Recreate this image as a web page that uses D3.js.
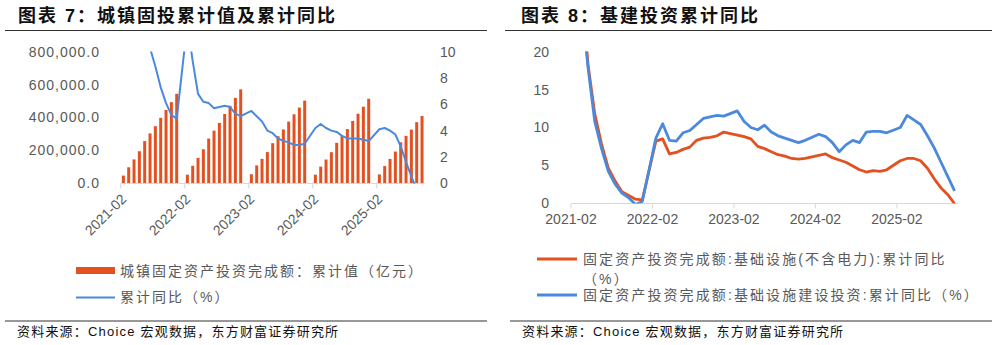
<!DOCTYPE html>
<html><head><meta charset="utf-8">
<script src="https://cdn.jsdelivr.net/npm/d3@7"></script>
<style>
body{margin:0;background:#fff}
svg{display:block}
text{font-family:'Liberation Sans','Noto Sans CJK SC',sans-serif}
</style>
</head><body>
<svg id="c" width="997" height="345"></svg>
<script>
// ---------- DATA ----------
const categories = [
 "2021-02","2021-03","2021-04","2021-05","2021-06","2021-07","2021-08","2021-09","2021-10","2021-11","2021-12",
 "2022-01","2022-02","2022-03","2022-04","2022-05","2022-06","2022-07","2022-08","2022-09","2022-10","2022-11","2022-12",
 "2023-01","2023-02","2023-03","2023-04","2023-05","2023-06","2023-07","2023-08","2023-09","2023-10","2023-11","2023-12",
 "2024-01","2024-02","2024-03","2024-04","2024-05","2024-06","2024-07","2024-08","2024-09","2024-10","2024-11","2024-12",
 "2025-01","2025-02","2025-03","2025-04","2025-05","2025-06","2025-07","2025-08","2025-09","2025-10"
];
// 城镇固定资产投资完成额：累计值（亿元）
const faiValue = [
 45236,95994,143917,193917,255900,302823,346913,397827,445823,494082,544547,
 null,50763,104872,153544,205964,271430,319812,367106,421412,471459,520043,572138,
 null,53577,107282,147482,188815,243113,285898,327042,375035,419409,460814,503036,
 null,50847,100042,143401,188006,245391,287611,329385,378978,423222,465839,514374,
 null,52619,103174,147024,191947,248654,288229,326111,371535,408914
];
// 累计同比（%）
const faiYoY = [
 35.0,25.6,19.9,15.4,12.6,10.3,8.9,7.3,6.1,5.2,4.9,
 null,12.2,9.3,6.8,6.2,6.1,5.7,5.8,5.9,5.8,5.3,5.1,
 null,5.5,5.1,4.7,4.0,3.8,3.4,3.2,3.1,2.9,2.9,3.0,
 null,4.2,4.5,4.2,4.0,3.9,3.6,3.4,3.4,3.4,3.3,3.2,
 null,4.1,4.2,4.0,3.7,2.8,1.6,0.5,-0.5,-1.7
];
// 基础设施(不含电力):累计同比
const infraExPowerYoY = [
 36.6,29.7,18.4,11.8,7.8,4.6,2.9,1.5,1.0,0.5,0.4,
 null,8.2,8.5,6.5,6.7,7.1,7.4,8.3,8.6,8.7,8.9,9.4,
 null,9.0,8.8,8.5,7.5,7.2,6.8,6.4,6.2,5.9,5.8,5.9,
 null,6.3,6.5,6.0,5.7,5.4,4.9,4.4,4.1,4.3,4.2,4.4,
 null,5.6,5.9,5.9,5.6,4.6,3.2,2.0,1.1,-0.1
];
// 基础设施建设投资:累计同比
const infraYoY = [
 35.0,26.9,18.0,10.8,7.2,4.2,2.5,1.3,0.7,-0.2,0.2,
 null,8.6,10.5,8.3,8.2,9.3,9.6,10.4,11.2,11.4,11.6,11.5,
 null,12.2,10.8,10.0,9.7,10.3,9.4,8.9,8.6,8.3,8.0,8.3,
 null,9.1,8.8,8.0,6.8,7.7,8.3,8.0,9.4,9.5,9.5,9.3,
 null,10.0,11.6,11.0,10.4,8.9,7.3,5.4,3.5,1.6
];
const xTickLabels = ["2021-02","2022-02","2023-02","2024-02","2025-02"];
const leftTicks = [0,200000,400000,600000,800000];
const rightTicks = [0,2,4,6,8,10];
const infraTicks = [0,5,10,15,20];

// ---------- STYLE ----------
const gray = '#595959', axisCol = '#D9D9D9', orange = '#E2511F', blue = '#4A89DC';
const svg = d3.select('#c');

function styleAxis(g, size){
  g.attr('font-family', null).attr('font-size', null);
  g.selectAll('text').attr('fill', gray).style('font-size', size + 'px');
}

// ---------- LEFT CHART ----------
const L = svg.append('g');
L.append('text').attr('x', 18).attr('y', 22)
  .style('font-size','18px').style('font-weight','bold').style('letter-spacing','2px')
  .attr('fill','#111').text('图表 7：城镇固投累计值及累计同比');
L.append('line').attr('x1',5).attr('x2',487).attr('y1',30.5).attr('y2',30.5).attr('stroke','#333').attr('stroke-width',1.2);

const xL = d3.scaleBand().domain(categories).range([120.7, 424.7]).paddingInner(0.44).paddingOuter(0.22);
const yL = d3.scaleLinear().domain([0, 800000]).range([183, 52]);
const yL2 = d3.scaleLinear().domain([0, 10]).range([183, 52]);

const defs = svg.append('defs');
defs.append('clipPath').attr('id','clipL').append('rect').attr('x',110).attr('y',51.5).attr('width',330).attr('height',132);
defs.append('clipPath').attr('id','clipR').append('rect').attr('x',560).attr('y',51.5).attr('width',410).attr('height',152);

const barData = categories.map((c,i)=>({c, v: faiValue[i]})).filter(d=>d.v!=null);
L.append('g').selectAll('rect').data(barData).join('rect')
  .attr('x', d=>xL(d.c)).attr('width', xL.bandwidth())
  .attr('y', d=>yL(d.v)).attr('height', d=>yL(0)-yL(d.v))
  .attr('fill', orange);

// x axis
L.append('line').attr('x1',xL.range()[0]).attr('x2',xL.range()[1]).attr('y1',183.5).attr('y2',183.5).attr('stroke',axisCol);
const gxL = L.append('g').attr('transform',`translate(${-xL.step()/2},183.5)`)
  .call(d3.axisBottom(xL).tickValues(xTickLabels).tickSize(5).tickSizeOuter(0));
gxL.select('.domain').remove();
gxL.selectAll('.tick line').attr('stroke',axisCol);
styleAxis(gxL, 14);
gxL.selectAll('.tick text').attr('text-anchor','end').attr('y',null).attr('dy','0.35em')
  .attr('transform','translate(3,13) rotate(-45)');

// left y axis
const gyL = L.append('g').attr('transform','translate(100,0)')
  .call(d3.axisLeft(yL).tickValues(leftTicks).tickSize(0).tickPadding(0).tickFormat(d3.format(',.1f')));
gyL.select('.domain').remove();
styleAxis(gyL, 14);
gyL.selectAll('text').style('letter-spacing','1px');

// right y axis
const gyL2 = L.append('g').attr('transform','translate(440,0)')
  .call(d3.axisRight(yL2).tickValues(rightTicks).tickSize(0).tickPadding(0).tickFormat(d3.format('d')));
gyL2.select('.domain').remove();
styleAxis(gyL2, 14);

// yoy line
const lineDataL = categories.map((c,i)=>({c, v: faiYoY[i]})).filter(d=>d.v!=null);
L.append('path').datum(lineDataL).attr('clip-path','url(#clipL)')
  .attr('fill','none').attr('stroke',blue).attr('stroke-width',2).attr('stroke-linejoin','round')
  .attr('d', d3.line().x(d=>xL(d.c)+xL.bandwidth()/2).y(d=>yL2(d.v)));

// legend
L.append('rect').attr('x',76).attr('y',267).attr('width',39).attr('height',7).attr('fill',orange);
L.append('text').attr('x',120).attr('y',271).attr('dy','0.35em').attr('fill',gray)
  .style('font-size','14px').style('letter-spacing','2px').text('城镇固定资产投资完成额：累计值（亿元）');
L.append('line').attr('x1',76).attr('x2',115).attr('y1',297.5).attr('y2',297.5).attr('stroke',blue).attr('stroke-width',2);
L.append('text').attr('x',120).attr('y',297).attr('dy','0.35em').attr('fill',gray)
  .style('font-size','14px').style('letter-spacing','2px').text('累计同比（%）');

L.append('line').attr('x1',5).attr('x2',487).attr('y1',321).attr('y2',321).attr('stroke','#333').attr('stroke-width',1.2);
L.append('text').attr('x',17).attr('y',336).attr('fill','#111')
  .style('font-size','13px').style('letter-spacing','1.2px').text('资料来源：Choice 宏观数据，东方财富证券研究所');

// ---------- RIGHT CHART ----------
const R = svg.append('g');
R.append('text').attr('x',521).attr('y',22)
  .style('font-size','18px').style('font-weight','bold').style('letter-spacing','2px')
  .attr('fill','#111').text('图表 8：基建投资累计同比');
R.append('line').attr('x1',505).attr('x2',992).attr('y1',30.5).attr('y2',30.5).attr('stroke','#333').attr('stroke-width',1.2);

const xR = d3.scaleBand().domain(categories).range([571, 958]).padding(0);
const yR = d3.scaleLinear().domain([0, 20]).range([203, 52]);

R.append('line').attr('x1',xR.range()[0]).attr('x2',xR.range()[1]).attr('y1',203.5).attr('y2',203.5).attr('stroke',axisCol);
const gxR = R.append('g').attr('transform',`translate(${-xR.step()/2},203.5)`)
  .call(d3.axisBottom(xR).tickValues(xTickLabels).tickSize(5).tickSizeOuter(0).tickPadding(6));
gxR.select('.domain').remove();
gxR.selectAll('.tick line').attr('stroke',axisCol);
styleAxis(gxR, 14);

const gyR = R.append('g').attr('transform','translate(549,0)')
  .call(d3.axisLeft(yR).tickValues(infraTicks).tickSize(0).tickPadding(0).tickFormat(d3.format('d')));
gyR.select('.domain').remove();
styleAxis(gyR, 14);

const lineR = d3.line().x(d=>xR(d.c)+xR.bandwidth()/2).y(d=>yR(d.v));
const orangeData = categories.map((c,i)=>({c, v: infraExPowerYoY[i]})).filter(d=>d.v!=null);
const blueData = categories.map((c,i)=>({c, v: infraYoY[i]})).filter(d=>d.v!=null);
R.append('path').datum(orangeData).attr('clip-path','url(#clipR)')
  .attr('fill','none').attr('stroke',orange).attr('stroke-width',2.8).attr('stroke-linejoin','round').attr('d',lineR);
R.append('path').datum(blueData).attr('clip-path','url(#clipR)')
  .attr('fill','none').attr('stroke',blue).attr('stroke-width',2.8).attr('stroke-linejoin','round').attr('d',lineR);

// legend
R.append('line').attr('x1',537).attr('x2',577).attr('y1',259).attr('y2',259).attr('stroke',orange).attr('stroke-width',3);
R.append('text').attr('x',583).attr('y',259).attr('dy','0.35em').attr('fill',gray)
  .style('font-size','14px').style('letter-spacing','2.1px').text('固定资产投资完成额:基础设施(不含电力):累计同比');
R.append('text').attr('x',583).attr('y',279).attr('dy','0.35em').attr('fill',gray)
  .style('font-size','14px').style('letter-spacing','2.1px').text('（%）');
R.append('line').attr('x1',537).attr('x2',577).attr('y1',295).attr('y2',295).attr('stroke',blue).attr('stroke-width',3);
R.append('text').attr('x',583).attr('y',295).attr('dy','0.35em').attr('fill',gray)
  .style('font-size','14px').style('letter-spacing','2.1px').text('固定资产投资完成额:基础设施建设投资:累计同比（%）');

R.append('line').attr('x1',510).attr('x2',992).attr('y1',321).attr('y2',321).attr('stroke','#333').attr('stroke-width',1.2);
R.append('text').attr('x',522).attr('y',336).attr('fill','#111')
  .style('font-size','13px').style('letter-spacing','1.2px').text('资料来源：Choice 宏观数据，东方财富证券研究所');
</script>
</body></html>
